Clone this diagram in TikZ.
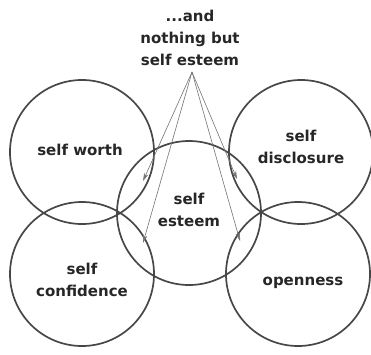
\documentclass[tikz,border=0pt]{standalone}
\usepackage{fontspec}
\setmainfont{DejaVu Sans}
\usetikzlibrary{arrows.meta}
\begin{document}
\begin{tikzpicture}[x=1pt,y=-1pt,
  ring/.style={draw=black!72,line width=1.7pt},
  lbl/.style={font=\bfseries\fontsize{15}{22}\selectfont,text=black!85,align=center},
  pointer/.style={draw=black!55,line width=0.6pt,-{Stealth[length=8pt,width=4.5pt]}}]
\useasboundingbox (0,0) rectangle (371,354);
\def\R{72}
\draw[ring] (82,152) circle[radius=\R];
\draw[ring] (301,152) circle[radius=\R];
\draw[ring] (82,274) circle[radius=\R];
\draw[ring] (298,274) circle[radius=\R];
\draw[ring] (189,213) circle[radius=\R];
\node[lbl] (sw) at (80,150) {self worth};
\node[lbl] (sd) at (301,147) {self\\disclosure};
\node[lbl] (sc) at (82,280) {self\\confidence};
\node[lbl] (op) at (303,283) {openness};
\node[lbl] (se) at (189,210) {self\\esteem};
\node[lbl] (top) at (190,38) {...and\\nothing but\\self esteem};
\coordinate (apex) at (192,72);
\coordinate (e1) at (143,181);
\coordinate (e2) at (143,243);
\coordinate (e3) at (237,179);
\coordinate (e4) at (240,241);
\foreach \e in {e1,e2,e3,e4} \draw[pointer] (apex) -- (\e);
\end{tikzpicture}
\end{document}
